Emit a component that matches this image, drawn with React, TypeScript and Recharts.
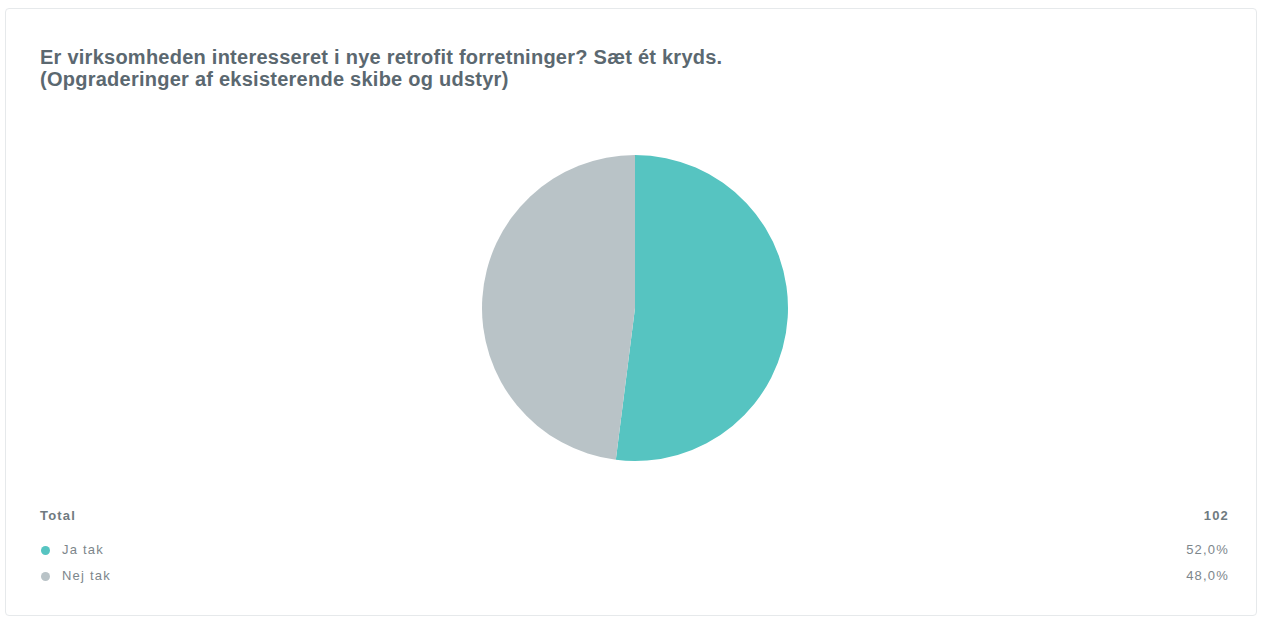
import React from "react";
import { PieChart, Pie, Cell } from "recharts";

const titleLines = [
  "Er virksomheden interesseret i nye retrofit forretninger? Sæt ét kryds.",
  "(Opgraderinger af eksisterende skibe og udstyr)",
];
const categories = ["Ja tak", "Nej tak"];
const values = [52.0, 48.0];
const colors = ["#56c4c1", "#b9c3c7"];
const totalLabel = "Total";
const totalCount = 102;

const data = categories.map((name, i) => ({ name, value: values[i] }));

const fmt = (v: number) => v.toFixed(1).replace(".", ",") + "%";

export default function App() {
  return (
    <div
      style={{
        position: "absolute",
        left: 0,
        top: 0,
        width: 1261,
        height: 619,
        background: "#ffffff",
        fontFamily: "'Liberation Sans', Arial, sans-serif",
      }}
    >
      <div
        style={{
          position: "absolute",
          left: 5,
          top: 8,
          width: 1252,
          height: 608,
          border: "1px solid #e6e9eb",
          borderRadius: 4,
          boxSizing: "border-box",
        }}
      />
      <div
        style={{
          position: "absolute",
          left: 40,
          top: 46,
          fontSize: 20,
          fontWeight: "bold",
          color: "#5b6870",
          lineHeight: "22px",
          letterSpacing: 0.25,
        }}
      >
        {titleLines.map((t, i) => (
          <div key={i}>{t}</div>
        ))}
      </div>
      <div style={{ position: "absolute", left: 475, top: 148 }}>
        <PieChart width={320} height={320} margin={{ top: 0, right: 0, bottom: 0, left: 0 }}>
          <Pie
            data={data}
            dataKey="value"
            nameKey="name"
            cx={160}
            cy={160}
            outerRadius={153}
            startAngle={90}
            endAngle={-270}
            stroke="none"
            isAnimationActive={false}
          >
            {data.map((d, i) => (
              <Cell key={d.name} fill={colors[i]} />
            ))}
          </Pie>
        </PieChart>
      </div>
      <div
        style={{
          position: "absolute",
          left: 40,
          top: 508,
          width: 1188,
          fontSize: 13,
          color: "#6f7a80",
          letterSpacing: 1.2,
        }}
      >
        <div
          style={{
            display: "flex",
            justifyContent: "space-between",
            fontWeight: "bold",
            height: 16,
            lineHeight: "16px",
          }}
        >
          <span>{totalLabel}</span>
          <span style={{ marginRight: -1 }}>{totalCount}</span>
        </div>
        {data.map((d, i) => (
          <div
            key={d.name}
            style={{
              display: "flex",
              justifyContent: "space-between",
              alignItems: "center",
              marginTop: i === 0 ? 18 : 10,
              height: 16,
              lineHeight: "16px",
              color: "#7d868b",
            }}
          >
            <span style={{ display: "flex", alignItems: "center" }}>
              <span
                style={{
                  display: "inline-block",
                  width: 9,
                  height: 9,
                  borderRadius: "50%",
                  background: colors[i],
                  marginLeft: 1,
                  marginRight: 12,
                }}
              />
              {d.name}
            </span>
            <span style={{ marginRight: -1 }}>{fmt(d.value)}</span>
          </div>
        ))}
      </div>
    </div>
  );
}
